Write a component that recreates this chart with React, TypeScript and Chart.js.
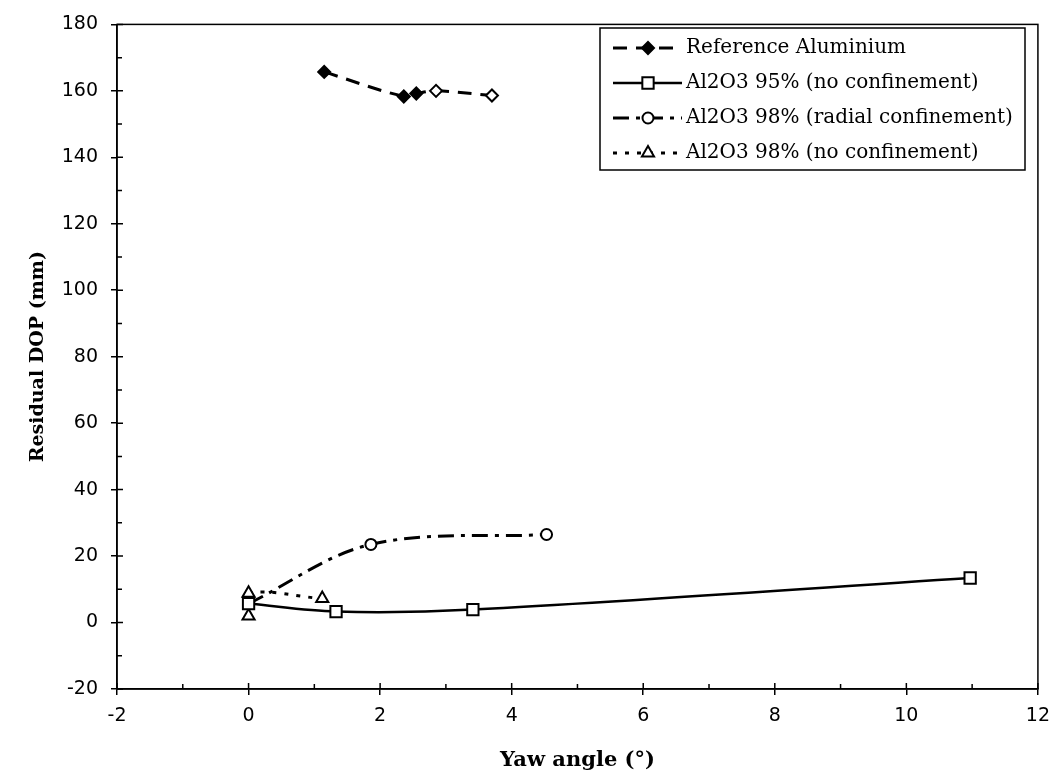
import React, { useEffect, useRef } from 'react';
import { Chart, registerables } from 'chart.js';
import { drawPoint } from 'chart.js/helpers';

Chart.register(...registerables);

const seriesLabels = [
  'Reference Aluminium',
  'Al2O3 95% (no confinement)',
  'Al2O3 98% (radial confinement)',
  'Al2O3 98% (no confinement)',
];

const aluX = [1.15, 2.36, 2.55, 2.85, 3.7];
const aluY = [165.7, 158.3, 159.2, 160.0, 158.6];
const aluFill = ['#000', '#000', '#000', '#fff', '#fff'];

const a95X = [0, 1.33, 3.41, 10.97];
const a95Y = [5.7, 3.3, 3.9, 13.4];

const a98rX = [0, 1.86, 4.53];
const a98rY = [5.7, 23.5, 26.5];

const a98nX = [0, 0, 1.12];
const a98nY = [2.0, 8.8, 7.2];

const xMin = -2;
const xMax = 12;
const xStep = 2;
const yMin = -20;
const yMax = 180;
const yStep = 20;

const xTitle = 'Yaw angle (°)';
const yTitle = 'Residual DOP (mm)';

const pts = (xs: number[], ys: number[]) => xs.map((x, i) => ({ x, y: ys[i] }));

const styles = [
  { pointStyle: 'rectRot', radius: 6, fill: '#000', dash: [14, 9], width: 3 },
  { pointStyle: 'rect', radius: 8, fill: '#fff', dash: [], width: 2.5 },
  { pointStyle: 'circle', radius: 5.5, fill: '#fff', dash: [16, 7, 4, 7], width: 3 },
  { pointStyle: 'triangle', radius: 7, fill: '#fff', dash: [4, 8], width: 3 },
];

const framePlugin = {
  id: 'frameTicks',
  afterDatasetsDraw(chart: any) {
    const { ctx, chartArea: a, scales } = chart;
    const x = scales.x;
    const y = scales.y;
    ctx.save();
    ctx.strokeStyle = '#000';
    ctx.lineWidth = 1.5;
    ctx.setLineDash([]);
    ctx.strokeRect(a.left, a.top, a.right - a.left, a.bottom - a.top);
    ctx.beginPath();
    for (let v = xMin; v <= xMax; v += 1) {
      const px = x.getPixelForValue(v);
      const len = v % 2 === 0 ? 6 : 5;
      ctx.moveTo(px, a.bottom);
      ctx.lineTo(px, a.bottom - len);
    }
    for (let v = yMin; v <= yMax; v += 10) {
      const py = y.getPixelForValue(v);
      const len = v % 20 === 0 ? 6 : 5;
      ctx.moveTo(a.left, py);
      ctx.lineTo(a.left + len, py);
    }
    ctx.stroke();
    ctx.restore();
  },
};

const legendPlugin = {
  id: 'boxLegend',
  afterDraw(chart: any) {
    const { ctx } = chart;
    const bx = 600, by = 28, bw = 425, bh = 142;
    ctx.save();
    ctx.fillStyle = '#fff';
    ctx.fillRect(bx, by, bw, bh);
    ctx.strokeStyle = '#000';
    ctx.lineWidth = 1.5;
    ctx.setLineDash([]);
    ctx.strokeRect(bx, by, bw, bh);
    const rows = [48, 83, 118, 153];
    chart.data.datasets.forEach((ds: any, i: number) => {
      const st = styles[i];
      const ry = rows[i];
      ctx.strokeStyle = '#000';
      ctx.lineWidth = st.width;
      ctx.setLineDash(st.dash);
      ctx.beginPath();
      ctx.moveTo(613, ry);
      ctx.lineTo(682, ry);
      ctx.stroke();
      ctx.setLineDash([]);
      ctx.fillStyle = st.fill;
      ctx.strokeStyle = '#000';
      ctx.lineWidth = 2;
      drawPoint(ctx, { pointStyle: st.pointStyle, rotation: 0, radius: st.radius, borderWidth: 2 } as any, 648, ry);
      ctx.fillStyle = '#000';
      ctx.font = '20px "DejaVu Serif"';
      ctx.textBaseline = 'middle';
      ctx.textAlign = 'left';
      ctx.fillText(ds.label, 686, ry);
    });
    ctx.restore();
  },
};

export default function App() {
  const ref = useRef<HTMLCanvasElement | null>(null);
  useEffect(() => {
    if (!ref.current) return;
    const series = [pts(aluX, aluY), pts(a95X, a95Y), pts(a98rX, a98rY), pts(a98nX, a98nY)];
    const datasets = series.map((data, i) => {
      const st = styles[i];
      return {
        label: seriesLabels[i],
        data,
        showLine: true,
        borderColor: '#000',
        borderWidth: st.width,
        borderDash: st.dash,
        tension: 0.35,
        pointStyle: st.pointStyle,
        pointRadius: st.radius,
        pointBorderWidth: 2,
        pointBorderColor: '#000',
        pointBackgroundColor: i === 0 ? aluFill : st.fill,
        fill: false,
      };
    });
    const tickFont = { family: '"DejaVu Sans"', size: 19 };
    const xTitleFont = { family: '"DejaVu Serif"', size: 21, weight: 'bold' as const };
    const yTitleFont = { family: '"DejaVu Serif"', size: 19, weight: 'bold' as const };
    const chart = new Chart(ref.current, {
      type: 'scatter',
      data: { datasets: datasets as any },
      options: {
        animation: false,
        responsive: false,
        devicePixelRatio: 1,
        layout: { padding: { top: 20, right: 20, left: 0, bottom: 0 } },
        plugins: { legend: { display: false }, tooltip: { enabled: false } },
        scales: {
          x: {
            type: 'linear',
            min: xMin,
            max: xMax,
            ticks: { stepSize: xStep, color: '#000', font: tickFont, padding: 10, maxRotation: 0 },
            grid: { drawOnChartArea: false, drawTicks: true, tickLength: 6, color: '#000', lineWidth: 1.5 },
            border: { display: true, color: '#000', width: 1.5 },
            title: { display: true, text: xTitle, color: '#000', font: xTitleFont, padding: { top: 0, bottom: 6 } },
            afterFit: (s: any) => { s.height = 90; },
          },
          y: {
            type: 'linear',
            min: yMin,
            max: yMax,
            ticks: { stepSize: yStep, color: '#000', font: tickFont, padding: 13 },
            grid: { drawOnChartArea: false, drawTicks: true, tickLength: 6, color: '#000', lineWidth: 1.5 },
            border: { display: true, color: '#000', width: 1.5 },
            title: { display: true, text: yTitle, color: '#000', font: yTitleFont, padding: { top: 27, bottom: 0 } },
            afterFit: (s: any) => { s.width = 117; },
          },
        },
      },
      plugins: [framePlugin, legendPlugin],
    });
    return () => chart.destroy();
  }, []);
  return (
    <div style={{ position: 'absolute', left: 0, top: 0, width: 1060, height: 779, background: '#fff' }}>
      <canvas ref={ref} width={1060} height={779} style={{ display: 'block', width: 1060, height: 779 }} />
    </div>
  );
}
